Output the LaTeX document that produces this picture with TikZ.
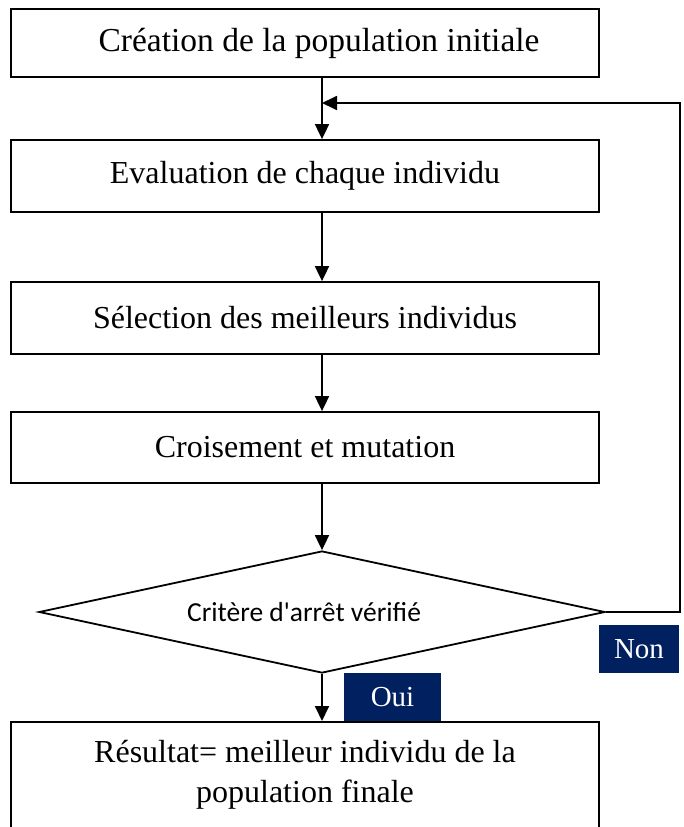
\documentclass[tikz,border=0pt]{standalone}
\usepackage{fontspec}
\setmainfont{Liberation Serif}
\newfontfamily\calib{Carlito}
\usetikzlibrary{shapes.geometric,arrows.meta}
\definecolor{navy}{HTML}{002060}
\tikzset{
  box/.style={draw=black, line width=1.8pt, rectangle, minimum width=588pt, inner sep=0pt, align=center,
    font=\fontsize{32}{40}\selectfont},
  arr/.style={draw=black, line width=1.8pt, -{Triangle[length=15pt,width=14pt]}},
  tag/.style={fill=navy, text=white, inner sep=0pt, font=\fontsize{29}{34}\selectfont},
}
\begin{document}
\begin{tikzpicture}[x=1pt,y=-1pt]
\useasboundingbox (0,0) rectangle (684,827);
\clip (0,0) rectangle (684,827);
\fill[white] (0,0) rectangle (684,827);
\node[box, minimum height=68pt, font=\fontsize{33.5}{40}\selectfont] (b1) at (305,43) {\hspace*{28pt}Création de la population initiale};
\node[box, minimum height=72pt] (b2) at (305,176) {Evaluation de chaque individu};
\node[box, minimum height=72pt] (b3) at (305,318) {Sélection des meilleurs individus};
\node[box, minimum height=71pt] (b4) at (305,447.5) {Croisement et mutation};
\node[draw=black, line width=1.8pt, diamond, shape aspect=4.64, inner sep=0pt, minimum width=566pt, minimum height=122pt,
  font=\calib\fontsize{27.5}{32}\selectfont] (d) at (322,612) {Critère d'arrêt vérifié\hspace*{36pt}};
\node[box, anchor=north, minimum height=200pt] (b5) at (305,721) {};
\node[font=\fontsize{32}{40}\selectfont, align=center, inner sep=0pt] (b5t) at (305,775)
  {Résultat= meilleur individu de la\\population finale};
\node[tag, minimum width=80pt, minimum height=48pt] (non) at (639,649) {Non};
\node[tag, minimum width=97pt, minimum height=48pt] (oui) at (392.5,697) {Oui};
\coordinate (fr) at (680,612);
\coordinate (fu) at (680,103);
\coordinate (fj) at (b1.south -| d.north);
\draw[arr] (b1.south -| d.north) -- (b2.north -| d.north);
\draw[arr] (b2.south -| d.north) -- (b3.north -| d.north);
\draw[arr] (b3.south -| d.north) -- (b4.north -| d.north);
\draw[arr] (b4.south -| d.north) -- (d.north);
\draw[arr] (d.south) -- (b5.north -| d.south);
\draw[arr] (d.east) -- (fr) -- (fu) -- (fu -| fj);
\end{tikzpicture}
\end{document}
